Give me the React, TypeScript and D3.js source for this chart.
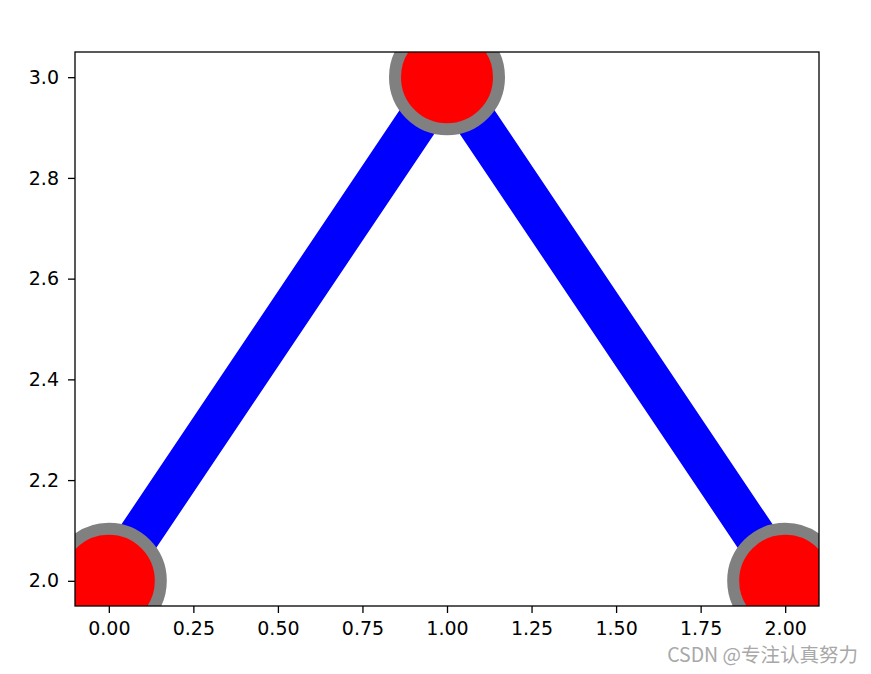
import React, { useEffect, useRef } from "react";
import * as d3 from "d3";

// data
const xValues = [0, 1, 2];
const yValues = [2, 3, 2];
const xTicks = [0, 0.25, 0.5, 0.75, 1, 1.25, 1.5, 1.75, 2];
const yTicks = [2.0, 2.2, 2.4, 2.6, 2.8, 3.0];
const xDomain = [-0.1, 2.1];
const yDomain = [1.95, 3.05];
const watermark = "CSDN @专注认真努力";

const W = 871;
const H = 674;
const margin = { left: 75, right: 52, top: 52, bottom: 68 };

function App() {
  const svgRef = useRef(null);

  useEffect(() => {
    const svg = d3.select(svgRef.current);
    svg.selectAll("*").remove();

    const x = d3.scaleLinear().domain(xDomain).range([margin.left, W - margin.right]);
    const y = d3.scaleLinear().domain(yDomain).range([H - margin.bottom, margin.top]);

    svg.append("rect").attr("width", W).attr("height", H).attr("fill", "#fff");

    svg
      .append("clipPath")
      .attr("id", "plot-clip")
      .append("rect")
      .attr("x", margin.left)
      .attr("y", margin.top)
      .attr("width", W - margin.left - margin.right)
      .attr("height", H - margin.top - margin.bottom);

    const pts = xValues.map((v, i) => [v, yValues[i]]);
    const plot = svg.append("g").attr("clip-path", "url(#plot-clip)");

    const line = d3
      .line()
      .x((d) => x(d[0]))
      .y((d) => y(d[1]));

    plot
      .append("path")
      .attr("d", line(pts))
      .attr("fill", "none")
      .attr("stroke", "#0000ff")
      .attr("stroke-width", 42)
      .attr("stroke-linejoin", "round")
      .attr("stroke-linecap", "butt");

    plot
      .selectAll("circle")
      .data(pts)
      .join("circle")
      .attr("cx", (d) => x(d[0]))
      .attr("cy", (d) => y(d[1]))
      .attr("r", 52)
      .attr("fill", "#ff0000")
      .attr("stroke", "#808080")
      .attr("stroke-width", 12);

    // axes
    const xAxis = d3
      .axisBottom(x)
      .tickValues(xTicks)
      .tickFormat(d3.format(".2f"))
      .tickSize(7)
      .tickPadding(9);
    const yAxis = d3
      .axisLeft(y)
      .tickValues(yTicks)
      .tickFormat(d3.format(".1f"))
      .tickSize(7)
      .tickPadding(9);

    const gx = svg
      .append("g")
      .attr("transform", `translate(0,${H - margin.bottom})`)
      .call(xAxis);
    const gy = svg.append("g").attr("transform", `translate(${margin.left},0)`).call(yAxis);

    [gx, gy].forEach((g) => {
      g.select(".domain").remove();
      g.selectAll("line").attr("stroke", "#000").attr("stroke-width", 1.3);
      g.selectAll("text")
        .attr("fill", "#000")
        .style("font-family", "DejaVu Sans")
        .style("font-size", "19px");
    });

    // frame
    svg
      .append("rect")
      .attr("x", margin.left)
      .attr("y", margin.top)
      .attr("width", W - margin.left - margin.right)
      .attr("height", H - margin.top - margin.bottom)
      .attr("fill", "none")
      .attr("stroke", "#000")
      .attr("stroke-width", 1.3);

    svg
      .append("text")
      .attr("x", 858)
      .attr("y", 662)
      .attr("text-anchor", "end")
      .attr("fill", "#a8a8a8")
      .style("font-family", "'Noto Sans CJK SC', 'Noto Sans', sans-serif")
      .style("font-size", "19.5px")
      .text(watermark);
  }, []);

  return (
    <div style={{ position: "absolute", left: 0, top: 0 }}>
      <svg ref={svgRef} width={W} height={H} />
    </div>
  );
}

export default App;
